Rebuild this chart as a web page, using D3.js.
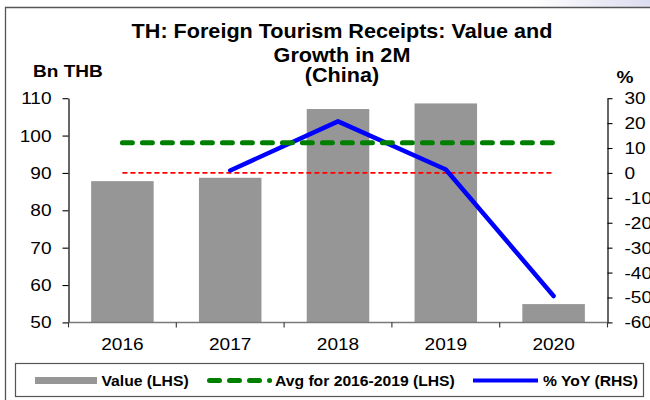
<!DOCTYPE html>
<html><head><meta charset="utf-8">
<script src="https://cdn.jsdelivr.net/npm/d3@7"></script>
<style>
html,body{margin:0;padding:0;background:#fff;}
svg{display:block;}
text{font-family:"Liberation Sans",Arial,sans-serif;fill:#000;}
</style></head><body>
<svg id="chart" width="650" height="400"></svg>
<script>
// ---- data ----
const years = ["2016", "2017", "2018", "2019", "2020"];
const valueLHS = [87.8, 88.7, 107.1, 108.6, 54.9];
const avgLHS = [98.1, 98.1, 98.1, 98.1, 98.1];
const yoyRHS = [null, 1.0, 20.7, 1.4, -49.4];
const zeroRHS = [0, 0, 0, 0, 0];
const leftTicks = [50, 60, 70, 80, 90, 100, 110];
const rightTicks = [-60, -50, -40, -30, -20, -10, 0, 10, 20, 30];
const titleLines = ["TH: Foreign Tourism Receipts: Value and", "Growth in 2M", "(China)"];
const legendLabels = ["Value (LHS)", "Avg for 2016-2019 (LHS)", "% YoY (RHS)"];

// ---- layout ----
const svg = d3.select("#chart");
const plot = {left: 68.5, right: 607.5, top: 98.2, bottom: 322.4};
const x = d3.scaleBand().domain(years).range([plot.left, plot.right]).paddingInner(0.42).paddingOuter(0.21);
const yL = d3.scaleLinear().domain([50, 110]).range([plot.bottom, plot.top]);
const yR = d3.scaleLinear().domain([-60, 30]).range([plot.bottom, plot.top]);
const cx = d => x(d) + x.bandwidth() / 2;

// background artifact top-right
const defs = svg.append("defs");
const rg = defs.append("radialGradient").attr("id", "bgGrad").attr("cx", "50%").attr("cy", "50%").attr("r", "50%");
rg.append("stop").attr("offset", "0%").attr("stop-color", "#d8d8ee");
rg.append("stop").attr("offset", "100%").attr("stop-color", "#ffffff");
defs.append("clipPath").attr("id", "topClip").append("rect").attr("x", 0).attr("y", 0).attr("width", 650).attr("height", 7.5);
svg.append("ellipse").attr("cx", 660).attr("cy", 0).attr("rx", 130).attr("ry", 40)
  .attr("fill", "url(#bgGrad)").attr("clip-path", "url(#topClip)");

// outer frame
svg.append("path").attr("d", "M5.5,400 L5.5,7.5 L650,7.5").attr("fill", "none").attr("stroke", "#555").attr("stroke-width", 1.3);

// title
svg.append("g").selectAll("text").data(titleLines).join("text")
  .attr("x", 342).attr("y", (d, i) => [38, 62, 81.5][i])
  .attr("text-anchor", "middle").attr("font-size", 19.3).attr("font-weight", "bold")
  .text(d => d);

// unit labels
svg.append("text").attr("x", 33).attr("y", 77).attr("font-size", 17).attr("font-weight", "bold").text("Bn THB");
svg.append("text").attr("x", 616.5).attr("y", 83).attr("font-size", 17).attr("font-weight", "bold").text("%");

// bars
svg.append("g").selectAll("rect").data(years).join("rect")
  .attr("x", d => x(d)).attr("width", x.bandwidth())
  .attr("y", (d, i) => yL(valueLHS[i])).attr("height", (d, i) => plot.bottom - yL(valueLHS[i]))
  .attr("fill", "#969696");

// zero reference line (RHS)
svg.append("path").datum(zeroRHS)
  .attr("d", d3.line().x((d, i) => cx(years[i])).y(d => yR(d)))
  .attr("fill", "none").attr("stroke", "#ff0000").attr("stroke-width", 1.8).attr("stroke-dasharray", "5,3");

// YoY line
svg.append("path").datum(yoyRHS)
  .attr("d", d3.line().defined(d => d !== null).x((d, i) => cx(years[i])).y(d => yR(d)))
  .attr("fill", "none").attr("stroke", "#0000ff").attr("stroke-width", 4.5)
  .attr("stroke-linejoin", "round").attr("stroke-linecap", "round");

// average line
svg.append("path").datum(avgLHS)
  .attr("d", d3.line().x((d, i) => cx(years[i])).y(d => yL(d)))
  .attr("fill", "none").attr("stroke", "#008000").attr("stroke-width", 5)
  .attr("stroke-dasharray", "10,10").attr("stroke-linecap", "round");

// left axis
const plain = d => String(d);
const gL = svg.append("g").attr("transform", `translate(${plot.left},0)`)
  .call(d3.axisLeft(yL).tickValues(leftTicks).tickFormat(plain).tickSize(6).tickSizeOuter(0).tickPadding(11));
// right axis
const gR = svg.append("g").attr("transform", `translate(${plot.right},0)`)
  .call(d3.axisRight(yR).tickValues(rightTicks).tickFormat(plain).tickSize(5).tickSizeOuter(0).tickPadding(12));
[gL, gR].forEach(g => {
  g.attr("font-family", null).attr("font-size", null);
  g.select(".domain").attr("stroke", "#000").attr("stroke-width", 1.2);
  g.selectAll(".tick line").attr("stroke", "#000").attr("stroke-width", 1.1);
  g.selectAll(".tick text").attr("font-size", 17).attr("fill", "#000");
});

// x axis baseline and boundary ticks
svg.append("line").attr("x1", plot.left).attr("x2", plot.right).attr("y1", plot.bottom).attr("y2", plot.bottom)
  .attr("stroke", "#7a7a7a").attr("stroke-width", 1.5);
const bounds = years.map(d => x(d) - x.step() * x.paddingInner() / 2).concat([plot.right]);
svg.append("g").selectAll("line").data(bounds).join("line")
  .attr("x1", d => d).attr("x2", d => d).attr("y1", plot.bottom).attr("y2", plot.bottom + 5)
  .attr("stroke", "#333").attr("stroke-width", 1.1);
svg.append("g").selectAll("text").data(years).join("text")
  .attr("x", d => cx(d)).attr("y", 350).attr("text-anchor", "middle").attr("font-size", 17).text(d => d);

// legend
svg.append("rect").attr("x", 15.5).attr("y", 363.5).attr("width", 628).attr("height", 33)
  .attr("fill", "#fff").attr("stroke", "#555").attr("stroke-width", 1.2);
const lg = svg.append("g");
lg.append("rect").attr("x", 35).attr("y", 377).attr("width", 62).attr("height", 7).attr("fill", "#969696");
lg.append("line").attr("x1", 209.5).attr("x2", 269.6).attr("y1", 380.5).attr("y2", 380.5)
  .attr("stroke", "#008000").attr("stroke-width", 5).attr("stroke-dasharray", "10,10").attr("stroke-linecap", "round");
lg.append("line").attr("x1", 473).attr("x2", 538).attr("y1", 380.5).attr("y2", 380.5)
  .attr("stroke", "#0000ff").attr("stroke-width", 4);
lg.selectAll("text").data(legendLabels).join("text")
  .attr("x", (d, i) => [101.5, 275, 543][i]).attr("y", 385.5)
  .attr("font-size", 14).attr("font-weight", "bold").text(d => d);

// slight horizontal stretch of all text, as in the original image
svg.selectAll("text").each(function () {
  const w = this.getComputedTextLength();
  d3.select(this).attr("textLength", w * 1.12).attr("lengthAdjust", "spacingAndGlyphs");
});
</script>
</body></html>
